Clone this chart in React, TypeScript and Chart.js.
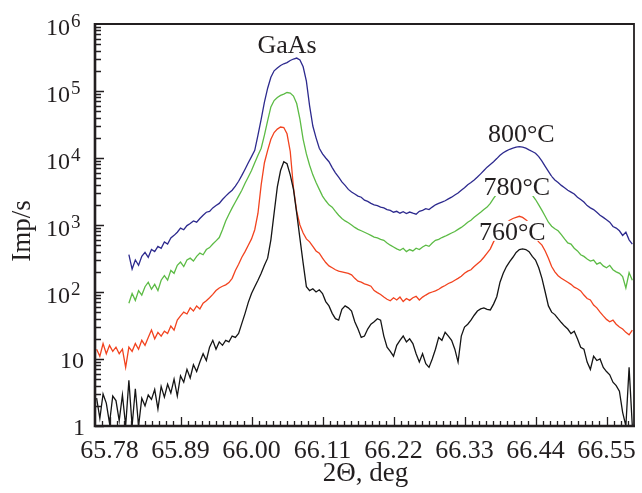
import React, { useEffect, useRef } from "react";
import { Chart, registerables } from "chart.js";

Chart.register(...registerables);

// 2Θ grid (deg)
const X_VALUES = [
  65.760, 65.765, 65.770, 65.775, 65.780, 65.785, 65.790, 65.795, 65.800, 65.805,
  65.810, 65.815, 65.820, 65.825, 65.830, 65.835, 65.840, 65.845, 65.850, 65.855,
  65.860, 65.865, 65.870, 65.875, 65.880, 65.885, 65.890, 65.895, 65.900, 65.905,
  65.910, 65.915, 65.920, 65.925, 65.930, 65.935, 65.940, 65.945, 65.950, 65.955,
  65.960, 65.965, 65.970, 65.975, 65.980, 65.985, 65.990, 65.995, 66.000, 66.005,
  66.010, 66.015, 66.020, 66.025, 66.030, 66.035, 66.040, 66.045, 66.050, 66.055,
  66.060, 66.065, 66.070, 66.075, 66.080, 66.085, 66.090, 66.095, 66.100, 66.105,
  66.110, 66.115, 66.120, 66.125, 66.130, 66.135, 66.140, 66.145, 66.150, 66.155,
  66.160, 66.165, 66.170, 66.175, 66.180, 66.185, 66.190, 66.195, 66.200, 66.205,
  66.210, 66.215, 66.220, 66.225, 66.230, 66.235, 66.240, 66.245, 66.250, 66.255,
  66.260, 66.265, 66.270, 66.275, 66.280, 66.285, 66.290, 66.295, 66.300, 66.305,
  66.310, 66.315, 66.320, 66.325, 66.330, 66.335, 66.340, 66.345, 66.350, 66.355,
  66.360, 66.365, 66.370, 66.375, 66.380, 66.385, 66.390, 66.395, 66.400, 66.405,
  66.410, 66.415, 66.420, 66.425, 66.430, 66.435, 66.440, 66.445, 66.450, 66.455,
  66.460, 66.465, 66.470, 66.475, 66.480, 66.485, 66.490, 66.495, 66.500, 66.505,
  66.510, 66.515, 66.520, 66.525, 66.530, 66.535, 66.540, 66.545, 66.550, 66.555,
  66.560, 66.565, 66.570, 66.575, 66.580, 66.585, 66.590,
];

// Imp/s, black (lowest) curve
const BLACK_SERIES = [
  2.6, 1.3, 3.0, 2.2, 1.1, 2.8, 2.4, 1.2, 2.9, 1.0,
  4.8, 1.0, 3.6, 1.0, 2.6, 2.0, 2.9, 2.5, 3.5, 1.8,
  3.9, 2.7, 4.2, 3.1, 5.0, 2.8, 5.6, 4.5, 7.0, 5.2,
  8.2, 6.5, 9.0, 12, 9.5, 15, 19, 14, 18, 16,
  19, 18, 22, 21, 24, 34, 48, 70, 95, 120,
  150, 190, 250, 320, 600, 1500, 3700, 6500, 8800, 8200,
  5600, 3400, 1500, 630, 270, 120, 105, 112, 100, 108,
  95, 72, 62, 48, 40, 38, 55, 62, 58, 52,
  36, 28, 21, 22, 28, 33, 36, 40, 38, 22,
  15, 13, 11, 16, 19, 22, 18, 20, 17, 12,
  9, 12, 8.5, 7.5, 10, 14, 21, 19, 25, 22,
  19, 14, 9, 22, 30, 33, 38, 45, 52, 56,
  58, 55, 54, 66, 85, 140, 190, 240, 285, 330,
  390, 430, 440, 430, 400, 340, 300, 230, 160, 100,
  62, 50, 46, 40, 35, 31, 28, 24, 26, 20,
  15, 14, 9, 7, 11, 9.5, 10, 7.5, 6.5, 5.8,
  4.5, 4.0, 3.3, 1.6, 1.0, 7.5, 1.0,
];

// 760°C (red)
const RED_760 = [
  14, 11, 17, 12, 16, 13, 15, 12, 14, 7.5,
  15, 13, 17, 14, 19, 16, 21, 27, 20, 25,
  22, 26, 24, 31, 27, 38, 44, 50, 47, 58,
  52, 62, 56, 68, 74, 82, 92, 105, 115, 122,
  128, 138, 160, 210, 260, 330, 400, 500, 620, 850,
  1500, 4000, 8500, 13000, 19000, 24000, 27000, 29000, 28500, 23000,
  12500, 3600, 1600, 1000, 760, 620, 560, 480, 410, 380,
  320, 275, 245, 230, 215, 205, 200, 195, 190, 180,
  160, 145, 140, 132, 128, 122, 105, 98, 92, 84,
  78, 74, 82, 76, 84, 72, 80, 75, 82, 86,
  76, 84, 90, 96, 100, 104, 110, 118, 125, 134,
  140, 150, 160, 172, 190, 205, 215, 240, 265, 290,
  330, 380, 440, 560, 680, 840, 980, 1080, 1180, 1250,
  1300, 1350, 1300, 1200, 1080, 900, 640, 560, 500, 410,
  320, 240, 200, 175, 160, 150, 140, 130, 118, 112,
  104, 90, 80, 76, 64, 58, 50, 44, 39, 36,
  38, 33, 30, 28, 25, 23, 27,
];

// 780°C (green)
const GREEN_780 = [
  null, null, null, null, null, null, null, null, null, null,
  68, 95, 75, 105, 90, 120, 140, 110, 130, 105,
  150, 175, 150, 210, 190, 250, 280, 240, 300, 320,
  290, 340, 380, 360, 430, 460, 520, 580, 650, 850,
  1150, 1450, 1800, 2200, 2700, 3300, 4200, 5200, 6500, 8500,
  11000, 14000, 22000, 36000, 58000, 72000, 80000, 86000, 90000, 95000,
  93000, 84000, 65000, 38000, 19000, 11500, 7800, 5600, 4300, 3400,
  2700, 2300, 2000, 1850, 1600, 1400, 1250, 1150, 1080, 1000,
  920, 860, 820, 780, 740, 700, 660, 640, 610, 590,
  540, 500, 470, 440, 420, 450, 400, 430, 410, 450,
  430, 470, 500, 480, 540, 590, 610, 650, 680, 720,
  760, 800, 860, 920, 1000, 1100, 1180, 1300, 1420, 1550,
  1700, 1850, 2100, 2500, 2900, 3200, 3450, 3650, 3800, 3900,
  4000, 4000, 3850, 3600, 3200, 2800, 2400, 2000, 1650, 1350,
  1100, 960, 880, 820, 720, 620, 540, 520, 450, 410,
  360, 340, 310, 290, 300, 260, 275, 245, 230, 250,
  215, 200, 190, 170, 115, 195, 150,
];

// 800°C (blue)
const BLUE_800 = [
  null, null, null, null, null, null, null, null, null, null,
  360, 220, 300, 250, 340, 390, 330, 430, 400, 480,
  450, 560, 520, 640, 700, 780, 900, 850, 980, 1050,
  1150, 1100, 1250, 1400, 1550, 1600, 1800, 1950, 2100, 2400,
  2700, 3000, 3300, 3800, 4500, 5500, 6800, 8500, 10500, 13000,
  22000, 38000, 68000, 110000, 160000, 200000, 220000, 240000, 255000, 265000,
  285000, 300000, 310000, 290000, 230000, 140000, 60000, 30000, 20000, 14000,
  11500, 10000, 8800, 7200, 6000, 5200, 4400, 3900, 3400, 3100,
  2900, 2700, 2600, 2350, 2250, 2100, 2000, 1950, 1850, 1800,
  1700, 1650, 1550, 1600, 1500, 1580, 1480, 1560, 1500, 1450,
  1600, 1650, 1750, 1700, 1850, 2000, 2100, 2200, 2300, 2450,
  2600, 2800, 3000, 3300, 3600, 4000, 4300, 4700, 5200, 5800,
  6500, 7300, 8000, 8800, 9800, 11000, 12000, 12800, 13500, 14000,
  14500, 14800, 14500, 14000, 13200, 12500, 11800, 10500, 9000, 7500,
  6300, 5300, 4700, 4300, 3900, 3600, 3300, 3100, 2900, 2600,
  2400, 2200, 1950, 1800, 1700, 1550, 1400, 1300, 1200, 1100,
  950, 900, 820, 700, 780, 600, 520,
];

const X_TICKS = [65.78, 65.89, 66.0, 66.11, 66.22, 66.33, 66.44, 66.55];
const X_TICK_LABELS = ["65.78", "65.89", "66.00", "66.11", "66.22", "66.33", "66.44", "66.55"];
const Y_DECADES = [0, 1, 2, 3, 4, 5, 6];

const X_MIN = 65.7575;
const X_MAX = 66.5926;
const Y_MIN = 1;
const Y_MAX = 1e6;

// annotation texts at (2Θ, Imp/s) baseline-centre anchors
const ANNOT_TEXTS = ["GaAs", "800°C", "780°C", "760°C"];
const ANNOT_X = [66.055, 66.418, 66.411, 66.404];
const ANNOT_Y = [369000, 17300, 2800, 600];

const FONT = "'Liberation Serif', 'Times New Roman', Times, serif";
const INK = "#231f20";

const framePlugin = {
  id: "frameAndText",
  afterDatasetsDraw(chart: any) {
    const { ctx, chartArea: a, scales } = chart;
    const xs = scales.x;
    const ys = scales.y;
    ctx.save();

    // annotations (white knock-out boxes)
    ctx.font = `26px ${FONT}`;
    ctx.textAlign = "center";
    ctx.textBaseline = "alphabetic";
    for (let i = 0; i < ANNOT_TEXTS.length; i++) {
      const px = xs.getPixelForValue(ANNOT_X[i]);
      const py = ys.getPixelForValue(ANNOT_Y[i]);
      const w = ctx.measureText(ANNOT_TEXTS[i]).width;
      ctx.fillStyle = "#ffffff";
      ctx.fillRect(px - w / 2 - 1, py - 19, w + 2, 20);
      ctx.fillStyle = INK;
      ctx.fillText(ANNOT_TEXTS[i], px, py);
    }

    ctx.strokeStyle = INK;
    // frame
    ctx.lineWidth = 1.8;
    ctx.beginPath();
    ctx.moveTo(a.left, a.top);
    ctx.lineTo(a.right, a.top);
    ctx.lineTo(a.right, a.bottom);
    ctx.stroke();
    ctx.lineWidth = 2.6;
    ctx.beginPath();
    ctx.moveTo(a.left, a.top - 1);
    ctx.lineTo(a.left, a.bottom);
    ctx.lineTo(a.right + 1, a.bottom);
    ctx.stroke();

    // x ticks (inward)
    ctx.lineWidth = 1.3;
    ctx.beginPath();
    const step = 0.011;
    for (let k = -3; k <= 80; k++) {
      const v = X_TICKS[0] + k * step;
      if (v < X_MIN + 0.001 || v > X_MAX - 0.001) continue;
      const px = Math.round(xs.getPixelForValue(v)) + 0.5;
      const major = ((k % 10) + 10) % 10 === 0;
      ctx.moveTo(px, a.bottom);
      ctx.lineTo(px, a.bottom - (major ? 9 : 5));
    }
    // y ticks (inward)
    for (let d = 0; d < 6; d++) {
      for (let m = 1; m <= 9; m++) {
        const v = m * Math.pow(10, d);
        const py = Math.round(ys.getPixelForValue(v)) + 0.5;
        ctx.moveTo(a.left, py);
        ctx.lineTo(a.left + (m === 1 ? 9 : 6), py);
      }
    }
    ctx.stroke();

    // x tick labels
    ctx.fillStyle = INK;
    ctx.font = `26px ${FONT}`;
    ctx.textAlign = "center";
    ctx.textBaseline = "alphabetic";
    X_TICKS.forEach((v, i) => {
      ctx.fillText(X_TICK_LABELS[i], xs.getPixelForValue(v), a.bottom + 32);
    });

    // y tick labels
    Y_DECADES.forEach((d) => {
      const py = ys.getPixelForValue(Math.pow(10, d));
      if (d === 0) {
        ctx.font = `24px ${FONT}`;
        ctx.textAlign = "right";
        ctx.fillText("1", a.left - 10, py + 9);
      } else if (d === 1) {
        ctx.font = `24px ${FONT}`;
        ctx.textAlign = "right";
        ctx.fillText("10", a.left - 11, py + 9);
      } else {
        ctx.font = `19px ${FONT}`;
        ctx.textAlign = "left";
        ctx.fillText(String(d), a.left - 24, py + 3);
        ctx.font = `24px ${FONT}`;
        ctx.textAlign = "right";
        ctx.fillText("10", a.left - 25, py + 11);
      }
    });

    // axis titles
    ctx.font = `27px ${FONT}`;
    ctx.textAlign = "center";
    ctx.fillText("2Θ, deg", (a.left + a.right) / 2 + 1, a.bottom + 55);
    ctx.save();
    ctx.translate(30, (a.top + a.bottom) / 2 + 6);
    ctx.rotate(-Math.PI / 2);
    ctx.fillText("Imp/s", 0, 0);
    ctx.restore();

    ctx.restore();
  },
};

function toPoints(series: (number | null)[]) {
  return X_VALUES.map((x, i) => ({ x, y: series[i] }));
}

export default function App() {
  const canvasRef = useRef<HTMLCanvasElement | null>(null);

  useEffect(() => {
    document.body.style.margin = "0";
    const canvas = canvasRef.current;
    if (!canvas) return;
    const mk = (label: string, data: (number | null)[], color: string) => ({
      label,
      data: toPoints(data),
      borderColor: color,
      backgroundColor: color,
      borderWidth: 1.3,
      pointRadius: 0,
      tension: 0,
      spanGaps: false,
      fill: false,
    });
    const chart = new Chart(canvas, {
      type: "line",
      data: {
        datasets: [
          mk("base", BLACK_SERIES, "#151515"),
          mk("760°C", RED_760, "#f2431f"),
          mk("780°C", GREEN_780, "#5cbb45"),
          mk("800°C", BLUE_800, "#2d2a8e"),
        ],
      },
      options: {
        responsive: false,
        animation: false,
        devicePixelRatio: 1,
        layout: { padding: { left: 95, right: 8, top: 24, bottom: 67 } },
        plugins: { legend: { display: false }, tooltip: { enabled: false } },
        scales: {
          x: { type: "linear", min: X_MIN, max: X_MAX, display: false },
          y: { type: "logarithmic", min: Y_MIN, max: Y_MAX, display: false },
        },
      },
      plugins: [framePlugin],
    } as any);
    return () => chart.destroy();
  }, []);

  return (
    <div style={{ position: "absolute", left: 0, top: 0, width: 642, height: 493, background: "#fff" }}>
      <canvas ref={canvasRef} width={642} height={493} />
    </div>
  );
}
